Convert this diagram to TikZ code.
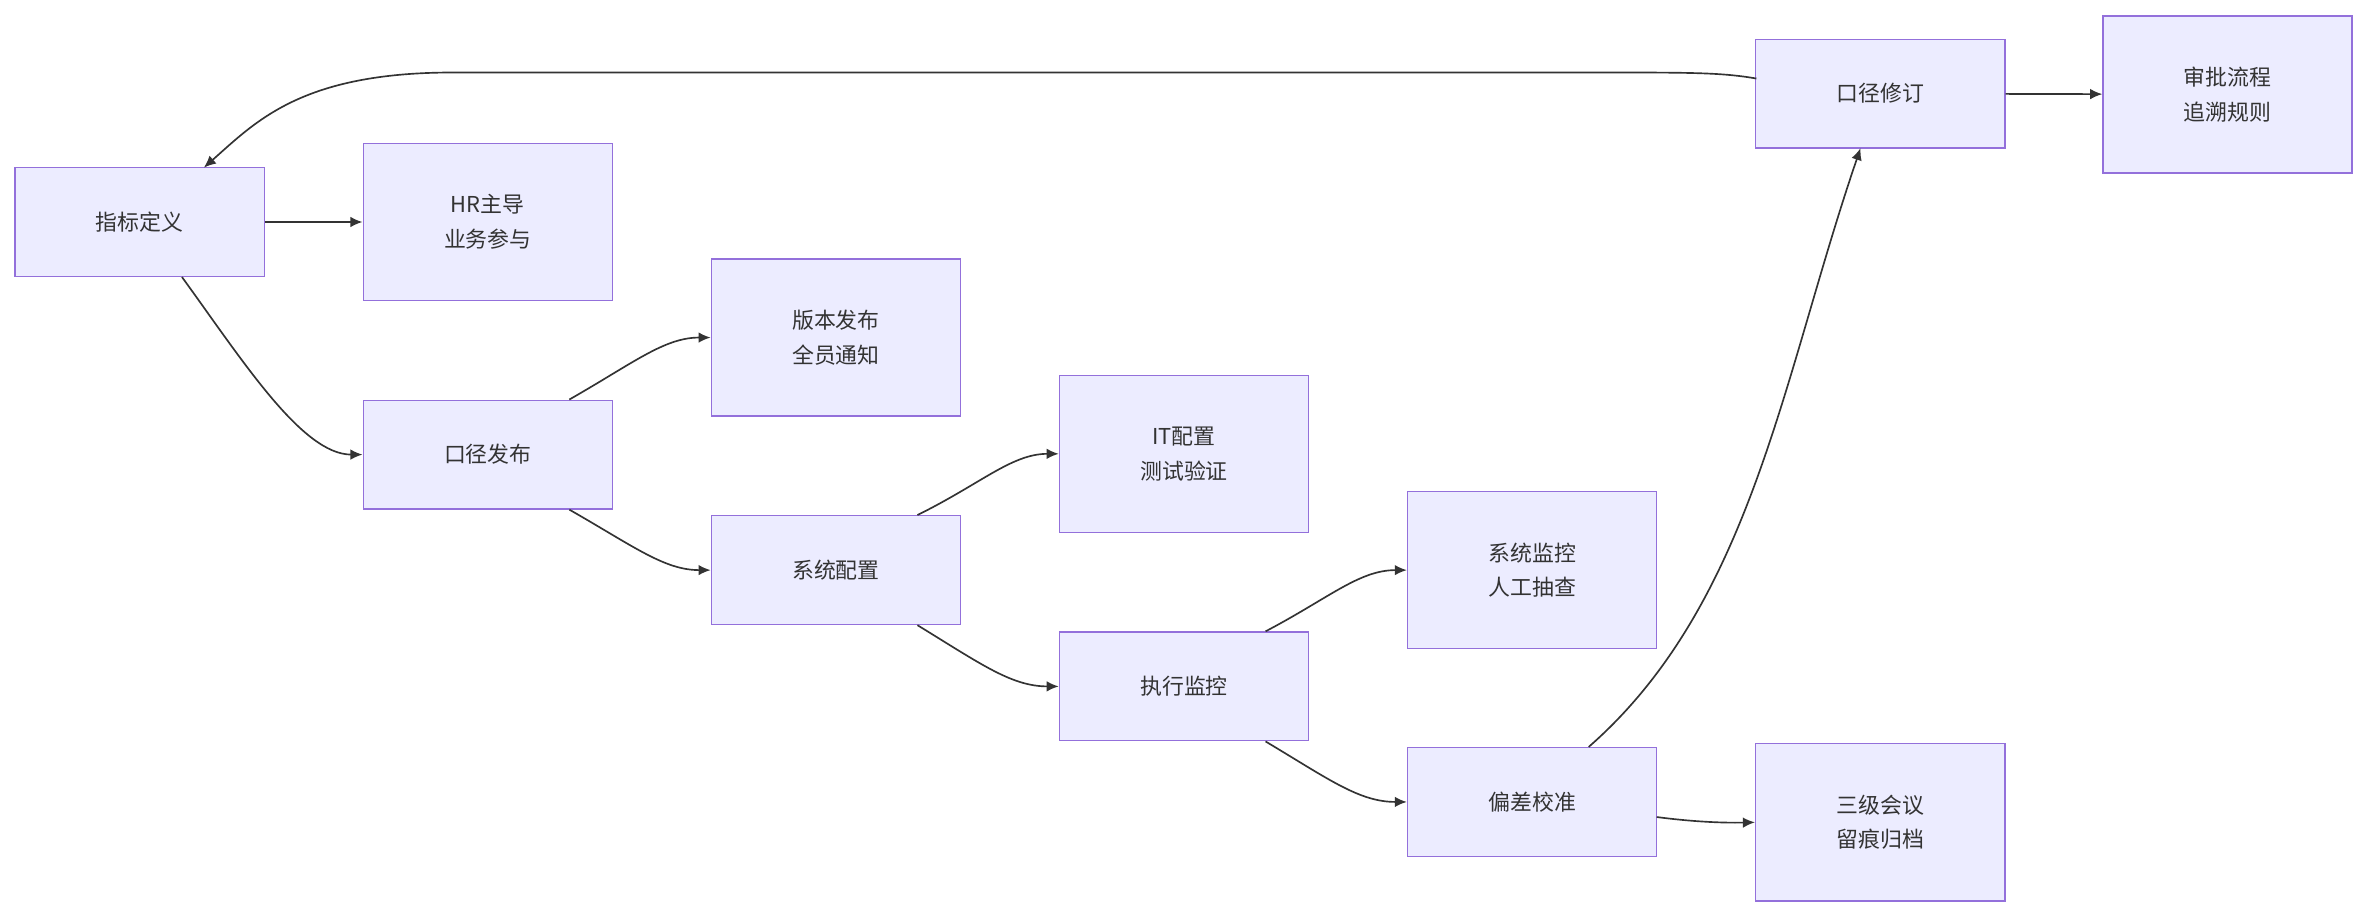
\documentclass[tikz,border=0pt]{standalone}
\usepackage{fontspec}
\setmainfont{Noto Sans CJK SC}
\usetikzlibrary{arrows.meta}
\definecolor{nfill}{HTML}{ECECFF}
\definecolor{nline}{HTML}{9370DB}
\definecolor{eline}{HTML}{333333}
\begin{document}
\begin{tikzpicture}[x=1pt,y=-1pt,
  box/.style={draw=nline,fill=nfill,line width=0.9pt,minimum width=165pt,align=center,text=eline,font=\fontsize{14.5}{23}\selectfont,inner sep=0pt},
  s/.style={box,minimum height=72pt},
  t/.style={box,minimum height=104pt},
  e/.style={draw=eline,line width=1.1pt,-{Latex[length=8pt,width=7pt]}}]
\useasboundingbox[fill=white] (0,0) rectangle (1568,606);
\node[s] (a) at (92.5,147) {指标定义};
\node[t] (b) at (323,147) {HR主导\\业务参与};
\node[s] (c) at (323,301) {口径发布};
\node[t] (d) at (553.5,223.5) {版本发布\\全员通知};
\node[s] (f) at (553.5,377.5) {系统配置};
\node[t] (g) at (784,300.5) {IT配置\\测试验证};
\node[s] (h) at (784,454.5) {执行监控};
\node[t] (i) at (1014.5,377.5) {系统监控\\人工抽查};
\node[s] (j) at (1014.5,531) {偏差校准};
\node[t] (k) at (1245,544.5) {三级会议\\留痕归档};
\node[s] (l) at (1245,62) {口径修订};
\node[t] (m) at (1475,62.5) {审批流程\\追溯规则};
\draw[e] (a) -- (b);
\draw[e] (a.south) ++(28,0) .. controls +(40,55) and (200,301) .. (c.west);
\draw[e] (c.north) ++(54,0) .. controls (420,240) and (440,223.5) .. (d.west);
\draw[e] (c.south) ++(54,0) .. controls (420,362) and (440,377.5) .. (f.west);
\draw[e] (f.north) ++(54,0) .. controls (650,320) and (670,300.5) .. (g.west);
\draw[e] (f.south) ++(54,0) .. controls (650,440) and (670,454.5) .. (h.west);
\draw[e] (h.north) ++(54,0) .. controls (880,396) and (900,377.5) .. (i.west);
\draw[e] (h.south) ++(54,0) .. controls (880,516) and (900,531) .. (j.west);
\draw[e] (1097,541) .. controls (1120,544) and (1140,545) .. (k.west);
\draw[e] (j.north) ++(37.5,0) .. controls (1160,400) and (1180,250) .. (1232,98);
\draw[e] (1163,52) .. controls (1140,48) and (1120,48) .. (1060,48) -- (300,48) .. controls (200,48) and (170,80) .. (135,111);
\draw[e] (l) -- (m);
\end{tikzpicture}
\end{document}
